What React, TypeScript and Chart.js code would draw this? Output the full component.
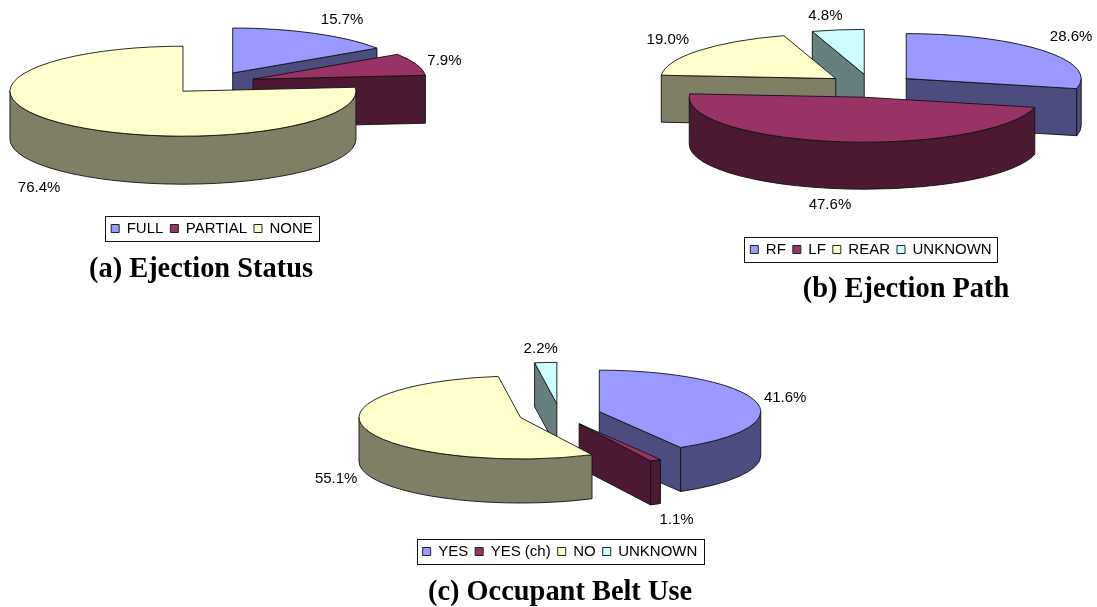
import React, { useEffect, useRef } from "react";
import { Chart, registerables } from "chart.js";

Chart.register(...registerables);

// Ejection status
const statusLabels = ["FULL", "PARTIAL", "NONE"];
const statusValues = [15.7, 7.9, 76.4];
// Ejection path
const pathLabels = ["RF", "LF", "REAR", "UNKNOWN"];
const pathValues = [28.6, 47.6, 19.0, 4.8];
// Occupant belt use
const beltLabels = ["YES", "YES (ch)", "NO", "UNKNOWN"];
const beltValues = [41.6, 1.1, 55.1, 2.2];

const topColors = ["#9999FF", "#993366", "#FFFFCC", "#CCFFFF"];
const sideColors = ["#4C4C7F", "#4C1933", "#7F7F66", "#667F7F"];
const lineColor = "#111111";
const sansFont = "'Liberation Sans', Arial, sans-serif";
const serifFont = "'Liberation Serif', 'Times New Roman', serif";

const panels = [
  {
    key: "status", labels: statusLabels, values: statusValues,
    title: "(a) Ejection Status",
    left: -48, top: 0, width: 520, height: 300,
    cx: 212.2, cy: 82.9, radius: 173, squash: 0.26, depth: 48, explode: 43.3,
    order: [0, 1, 2],
    labelNudge: [[27.5, -13.4], [28, -3], [-27, 15]],
    titleX: 201, titleY: 277, legendPad: 54,
  },
  {
    key: "path", labels: pathLabels, values: pathValues,
    title: "(b) Ejection Path",
    left: 611, top: 0, width: 520, height: 310,
    cx: 871, cy: 85.8, radius: 175, squash: 0.257, depth: 47, explode: 45,
    order: [3, 2, 0, 1],
    labelNudge: [[28, -13.5], [-8, 15.7], [-31, -11], [-12.5, -14]],
    titleX: 906, titleY: 297, legendPad: 43,
  },
  {
    key: "belt", labels: beltLabels, values: beltValues,
    title: "(c) Occupant Belt Use",
    left: 300, top: 330, width: 520, height: 277,
    cx: 559.7, cy: 414.4, radius: 161.5, squash: 0.257, depth: 44, explode: 41,
    order: [3, 0, 1, 2],
    labelNudge: [[30, -3], [21, 15.5], [-30, 5.5], [-5, -13.6]],
    titleX: 560, titleY: 600, legendPad: 38,
  },
];

// Redraws the pie's arcs as a tilted, exploded disc: walls first, then each arc's top face.
const tiltedPie = {
  id: "tiltedPie",
  beforeDatasetsDraw(chart: any, _args: any, opts: any) {
    const { ctx } = chart;
    const arcs = chart.getDatasetMeta(0).data;
    const { cx, cy, squash, depth, explode, order, labelNudge, values } = opts;

    const place = (arc: any) => {
      const mid = (arc.startAngle + arc.endAngle) / 2;
      return {
        mid,
        x: cx + explode * Math.cos(mid),
        y: cy + squash * explode * Math.sin(mid),
        r: arc.outerRadius,
        ry: arc.outerRadius * squash,
      };
    };

    ctx.save();
    ctx.lineWidth = 0.9;
    ctx.lineJoin = "round";
    ctx.strokeStyle = lineColor;

    for (const i of order) {
      const arc = arcs[i];
      const { x, y, r, ry } = place(arc);
      const a0 = arc.startAngle;
      const a1 = arc.endAngle;
      ctx.fillStyle = sideColors[i];

      // Flat cut faces that turn towards the viewer
      const face = (angle: number) => {
        const ex = x + r * Math.cos(angle);
        const ey = y + ry * Math.sin(angle);
        ctx.beginPath();
        ctx.moveTo(x, y);
        ctx.lineTo(ex, ey);
        ctx.lineTo(ex, ey + depth);
        ctx.lineTo(x, y + depth);
        ctx.closePath();
        ctx.fill();
        ctx.stroke();
      };
      if (Math.cos(a0) < -1e-6) face(a0);
      if (Math.cos(a1) > 1e-6) face(a1);

      // Rim wall on the near half of the ellipse
      const from = Math.max(a0, 0);
      const to = Math.min(a1, Math.PI);
      if (to > from) {
        ctx.beginPath();
        ctx.ellipse(x, y, r, ry, 0, from, to);
        ctx.ellipse(x, y + depth, r, ry, 0, to, from, true);
        ctx.closePath();
        ctx.fill();
        ctx.stroke();
      }

      // Top face comes from the arc element itself
      ctx.save();
      ctx.translate(x, y);
      ctx.scale(1, squash);
      ctx.translate(-arc.x, -arc.y);
      arc.draw(ctx);
      ctx.restore();

      ctx.beginPath();
      ctx.moveTo(x, y);
      ctx.ellipse(x, y, r, ry, 0, a0, a1);
      ctx.closePath();
      ctx.stroke();
    }

    // Percentage labels beside each slice's rim
    ctx.fillStyle = "#000";
    ctx.font = `15px ${sansFont}`;
    ctx.textAlign = "center";
    ctx.textBaseline = "middle";
    arcs.forEach((arc: any, i: number) => {
      const { mid, x, y, r, ry } = place(arc);
      const front = Math.sin(mid) > 0 ? depth : 0;
      const lx = x + r * Math.cos(mid) + labelNudge[i][0];
      const ly = y + ry * Math.sin(mid) + front + labelNudge[i][1];
      ctx.fillText(`${values[i].toFixed(1)}%`, lx, ly);
    });
    ctx.restore();
    return false;
  },
  afterDraw(chart: any, _args: any, opts: any) {
    const { ctx } = chart;
    const boxes = chart.legend.legendHitBoxes;
    const left = Math.min(...boxes.map((b: any) => b.left));
    const right = Math.max(...boxes.map((b: any) => b.left + b.width));
    const top = boxes[0].top;
    ctx.save();
    // Frame round the legend
    ctx.strokeStyle = "#111";
    ctx.lineWidth = 1;
    ctx.strokeRect(Math.round(left - 6) + 0.5, Math.round(top - 5) + 0.5, Math.round(right - left + 12), 25);
    // Panel caption
    ctx.fillStyle = "#000";
    ctx.font = `bold 28.4px ${serifFont}`;
    ctx.textAlign = "center";
    ctx.textBaseline = "alphabetic";
    ctx.fillText(opts.title, opts.titleX, opts.titleY);
    ctx.restore();
  },
};

function PiePanel({ panel }: { panel: (typeof panels)[number] }) {
  const ref = useRef<HTMLCanvasElement>(null);
  useEffect(() => {
    const chart = new Chart(ref.current as HTMLCanvasElement, {
      type: "pie",
      plugins: [tiltedPie],
      data: {
        labels: panel.labels,
        datasets: [
          {
            data: panel.values,
            backgroundColor: topColors.slice(0, panel.values.length),
            borderWidth: 0,
            offset: 0,
            radius: panel.radius,
          } as any,
        ],
      },
      options: {
        responsive: false,
        animation: false,
        devicePixelRatio: 1,
        events: [],
        layout: { padding: { bottom: panel.legendPad } },
        plugins: {
          tooltip: { enabled: false },
          legend: {
            position: "bottom",
            labels: {
              boxWidth: 8,
              boxHeight: 8,
              padding: 7,
              color: "#000",
              font: { family: sansFont, size: 15 },
              generateLabels: (c: any) =>
                c.data.labels.map((text: string, index: number) => ({
                  text,
                  index,
                  fillStyle: topColors[index],
                  strokeStyle: "#222",
                  lineWidth: 1,
                  hidden: false,
                })),
            },
          },
          tiltedPie: {
            cx: panel.cx - panel.left,
            cy: panel.cy - panel.top,
            squash: panel.squash,
            depth: panel.depth,
            explode: panel.explode,
            order: panel.order,
            labelNudge: panel.labelNudge,
            values: panel.values,
            title: panel.title,
            titleX: panel.titleX - panel.left,
            titleY: panel.titleY - panel.top,
          },
        } as any,
      },
    });
    return () => chart.destroy();
  }, [panel]);
  return (
    <canvas
      ref={ref}
      width={panel.width}
      height={panel.height}
      style={{ position: "absolute", left: panel.left, top: panel.top, width: panel.width, height: panel.height }}
    />
  );
}

export default function App() {
  return (
    <div style={{ position: "fixed", left: 0, top: 0, width: 1097, height: 607, overflow: "hidden", background: "#fff" }}>
      {panels.map((p) => (
        <PiePanel key={p.key} panel={p} />
      ))}
    </div>
  );
}
